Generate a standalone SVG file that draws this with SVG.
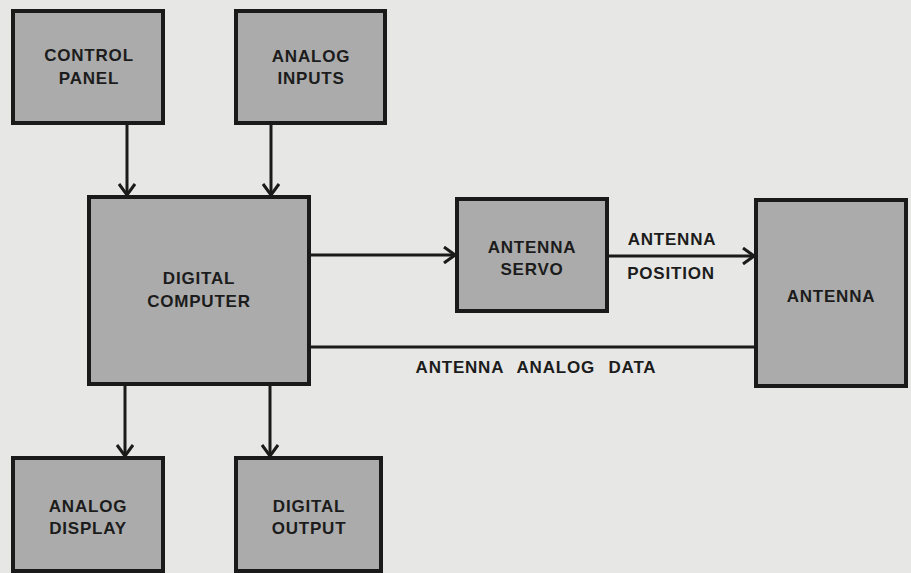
<svg xmlns="http://www.w3.org/2000/svg" width="911" height="573" viewBox="0 0 911 573">
<defs>
<style>
.box{fill:#ababab;stroke:#1a1a1a;stroke-width:4}
.t{font-family:"Liberation Sans",Arial,sans-serif;font-weight:bold;font-size:17px;fill:#1c1c1c;text-anchor:middle;letter-spacing:0.8px}
.line{stroke:#1a1a1a;stroke-width:3;fill:none}
</style>
<marker id="ah" viewBox="0 0 13 18" refX="12" refY="9" markerWidth="13" markerHeight="18" markerUnits="userSpaceOnUse" orient="auto">
<path d="M1,1 L12,9 L1,17" fill="none" stroke="#1a1a1a" stroke-width="3"/>
</marker>
</defs>
<rect width="911" height="573" fill="#e7e7e5"/>
<g id="connectors">
<line class="line" x1="127" y1="123" x2="127" y2="195" marker-end="url(#ah)"/>
<line class="line" x1="271" y1="123" x2="271" y2="195" marker-end="url(#ah)"/>
<line class="line" x1="309" y1="255" x2="455" y2="255" marker-end="url(#ah)"/>
<line class="line" x1="607" y1="256" x2="754" y2="256" marker-end="url(#ah)"/>
<line class="line" x1="309" y1="347" x2="756" y2="347"/>
<line class="line" x1="125" y1="384" x2="125" y2="456" marker-end="url(#ah)"/>
<line class="line" x1="270" y1="384" x2="270" y2="456" marker-end="url(#ah)"/>
<text class="t" x="672" y="245">ANTENNA</text>
<text class="t" x="671" y="279">POSITION</text>
<text class="t" x="536" y="373" word-spacing="8px">ANTENNA ANALOG DATA</text>
</g>
<g id="control-panel">
<rect class="box" x="13" y="11" width="150" height="112"/>
<text class="t" x="89" y="61">CONTROL</text>
<text class="t" x="89" y="84">PANEL</text>
</g>
<g id="analog-inputs">
<rect class="box" x="236" y="11" width="149" height="112"/>
<text class="t" x="311" y="62">ANALOG</text>
<text class="t" x="311" y="84">INPUTS</text>
</g>
<g id="digital-computer">
<rect class="box" x="89" y="197" width="220" height="187"/>
<text class="t" x="199" y="284">DIGITAL</text>
<text class="t" x="199" y="307">COMPUTER</text>
</g>
<g id="antenna-servo">
<rect class="box" x="457" y="199" width="150" height="112"/>
<text class="t" x="532" y="253">ANTENNA</text>
<text class="t" x="532" y="275">SERVO</text>
</g>
<g id="antenna">
<rect class="box" x="756" y="200" width="150" height="186"/>
<text class="t" x="831" y="302">ANTENNA</text>
</g>
<g id="analog-display">
<rect class="box" x="13" y="458" width="150" height="113"/>
<text class="t" x="88" y="512">ANALOG</text>
<text class="t" x="88" y="534">DISPLAY</text>
</g>
<g id="digital-output">
<rect class="box" x="236" y="458" width="145" height="113"/>
<text class="t" x="309" y="512">DIGITAL</text>
<text class="t" x="309" y="534">OUTPUT</text>
</g>
</svg>
